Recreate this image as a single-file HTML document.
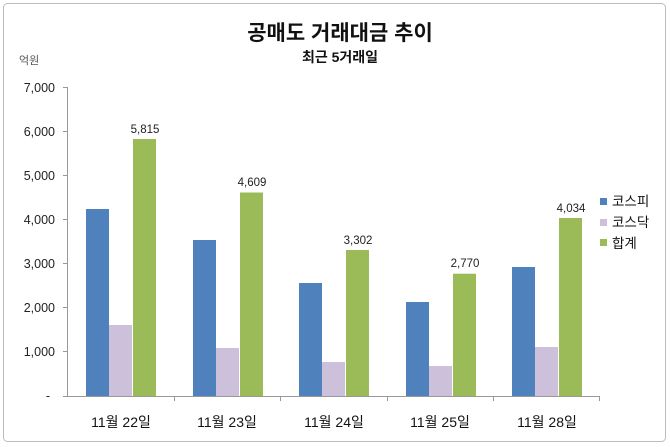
<!DOCTYPE html>
<html><head><meta charset="utf-8"><style>
body{margin:0;background:#fff;}
svg{display:block;font-family:"Liberation Sans","Noto Sans CJK KR",sans-serif;}
</style></head><body>
<svg width="670" height="447" viewBox="0 0 670 447">
<rect x="3.5" y="3.5" width="662" height="438" rx="4" fill="#fff" stroke="#bdbdbd"/>
<text x="340" y="40" text-anchor="middle" font-size="21" font-weight="bold" fill="#111">공매도 거래대금 추이</text>
<text x="340" y="62" text-anchor="middle" font-size="14" font-weight="bold" fill="#111">최근 5거래일</text>
<text x="19" y="64" font-size="11" fill="#555">억원</text>
<g font-size="12.5" fill="#222" text-anchor="end">
<text x="55" y="92">7,000</text><text x="55" y="136">6,000</text><text x="55" y="180">5,000</text>
<text x="55" y="224">4,000</text><text x="55" y="268">3,000</text><text x="55" y="312">2,000</text>
<text x="55" y="356">1,000</text><text x="50" y="400">-</text>
</g>
<g stroke="#999" stroke-width="1">
<line x1="67.5" y1="87" x2="67.5" y2="396"/>
<line x1="63" y1="87.5" x2="67" y2="87.5"/><line x1="63" y1="131.5" x2="67" y2="131.5"/>
<line x1="63" y1="175.5" x2="67" y2="175.5"/><line x1="63" y1="219.5" x2="67" y2="219.5"/>
<line x1="63" y1="263.5" x2="67" y2="263.5"/><line x1="63" y1="307.5" x2="67" y2="307.5"/>
<line x1="63" y1="351.5" x2="67" y2="351.5"/>
<line x1="63" y1="396.5" x2="600" y2="396.5"/>
<line x1="174.5" y1="396" x2="174.5" y2="401"/><line x1="280.5" y1="396" x2="280.5" y2="401"/>
<line x1="387.5" y1="396" x2="387.5" y2="401"/><line x1="493.5" y1="396" x2="493.5" y2="401"/>
<line x1="599.5" y1="396" x2="599.5" y2="401"/>
</g>
<g>
<rect x="86" y="209" width="23" height="187" fill="#4f81bd"/>
<rect x="109" y="325" width="23" height="71" fill="#ccc0da"/>
<rect x="133" y="139" width="23" height="257" fill="#9bbb59"/>
<rect x="193" y="240" width="23" height="156" fill="#4f81bd"/>
<rect x="216" y="348" width="23" height="48" fill="#ccc0da"/>
<rect x="240" y="192.5" width="23" height="203.5" fill="#9bbb59"/>
<rect x="299" y="283" width="23" height="113" fill="#4f81bd"/>
<rect x="322" y="362" width="23" height="34" fill="#ccc0da"/>
<rect x="346" y="250" width="23" height="146" fill="#9bbb59"/>
<rect x="406" y="302" width="23" height="94" fill="#4f81bd"/>
<rect x="429" y="366" width="23" height="30" fill="#ccc0da"/>
<rect x="453" y="273.7" width="23" height="122.3" fill="#9bbb59"/>
<rect x="512" y="267" width="23" height="129" fill="#4f81bd"/>
<rect x="535" y="347" width="23" height="49" fill="#ccc0da"/>
<rect x="559" y="218" width="23" height="178" fill="#9bbb59"/>
</g>
<g font-size="11.5" fill="#222" text-anchor="middle">
<text x="145" y="133">5,815</text><text x="252" y="186">4,609</text>
<text x="358" y="244">3,302</text><text x="465" y="267">2,770</text><text x="571" y="212">4,034</text>
</g>
<g font-size="14" fill="#111" text-anchor="middle">
<text x="121" y="427">11월 22일</text><text x="227" y="427">11월 23일</text>
<text x="334" y="427">11월 24일</text><text x="440" y="427">11월 25일</text><text x="547" y="427">11월 28일</text>
</g>
<rect x="600" y="198" width="7" height="7" fill="#4f81bd"/>
<rect x="600" y="219" width="7" height="7" fill="#ccc0da"/>
<rect x="600" y="239" width="7" height="7" fill="#9bbb59"/>
<g font-size="13.5" fill="#111">
<text x="612" y="206">코스피</text><text x="612" y="227">코스닥</text><text x="612" y="248">합계</text>
</g>
</svg>
</body></html>
